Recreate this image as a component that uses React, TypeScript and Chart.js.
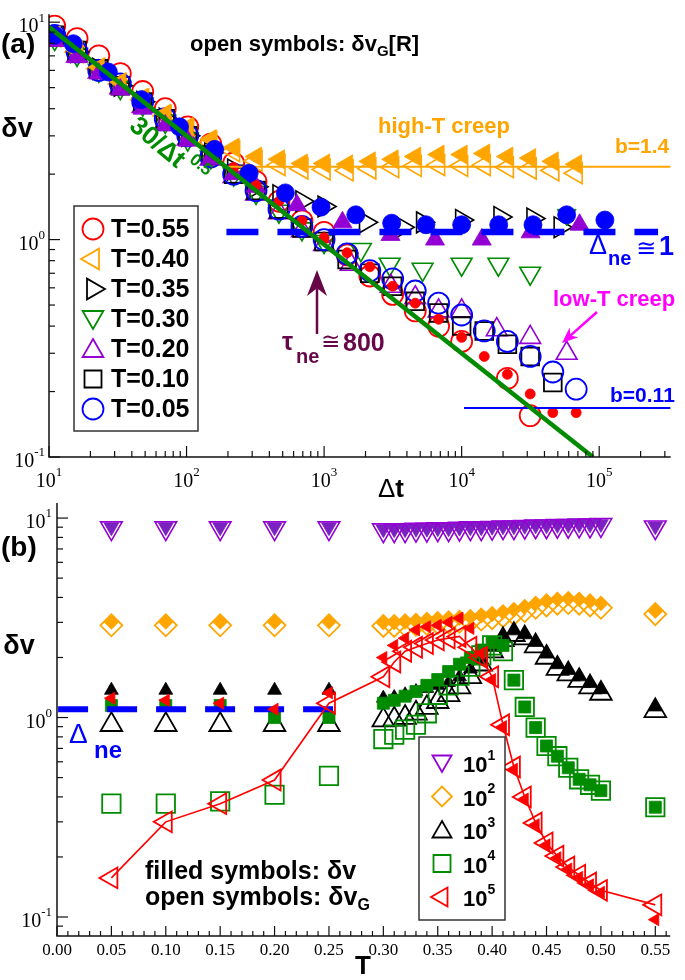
import React, { useEffect, useRef } from 'react';
import { Chart, registerables } from 'chart.js';

Chart.register(...registerables);

const W = 685;
const H = 980;
const SANS = '"Liberation Sans", "DejaVu Sans", Arial, sans-serif';
const SERIF = '"Liberation Serif", "DejaVu Serif", serif';

const RED = '#ff0000';
const ORANGE = '#ffa500';
const BLACK = '#000000';
const GREEN = '#008b00';
const VIOLET = '#9400d3';
const BLUE = '#0000ff';
const MAGENTA = '#ff00ff';
const MAROON = '#670748';

// ---------------- panel (a): delta v versus Delta t ----------------
const tA = [11, 16, 23, 33, 48, 70, 102, 150, 220, 320, 470, 690, 1000, 1470, 2150, 3150, 4600, 6800, 10000, 14600, 21500, 31500, 46000, 68000];

const vG055 = [9.6, 8.4, 7.0, 5.8, 4.8, 4.0, 3.3, 2.75, 2.25, 1.85, 1.5, 1.22, 1.08, 0.85, 0.68, 0.56, 0.47, 0.40, 0.34, null, 0.23, 0.155, null, null];
const v055 = [null, null, null, null, null, null, null, 2.6, 2.15, 1.78, 1.5, 1.22, 1.02, 0.87, 0.75, 0.61, 0.51, 0.43, 0.355, 0.29, 0.24, 0.195, 0.16, 0.16];
const vG040 = [8.6, 7.3, 6.1, 5.2, 4.4, 3.7, 3.2, 2.8, 2.55, 2.3, 2.2, 2.12, 2.1, 2.08, 2.12, 2.15, 2.18, 2.2, 2.18, 2.2, 2.15, 2.12, 2.08, 2.02];
const v040 = [8.7, 7.4, 6.2, 5.3, 4.5, 3.8, 3.3, 2.9, 2.65, 2.41, 2.34, 2.24, 2.24, 2.22, 2.29, 2.34, 2.41, 2.46, 2.46, 2.49, 2.41, 2.37, 2.29, 2.22];
const vG010 = [8.7, 7.4, 6.1, 5.1, 4.3, 3.6, 3.0, 2.45, 2.0, 1.68, 1.38, 1.13, 0.98, 0.81, 0.70, 0.61, 0.52, 0.46, 0.40, 0.38, 0.33, 0.29, 0.22, null];
const vG005 = [8.7, 7.3, 6.0, 5.2, 4.3, 3.6, 3.0, 2.4, 2.0, 1.68, 1.38, 1.15, 1.0, 0.86, 0.72, 0.66, 0.58, 0.51, 0.45, 0.38, 0.34, 0.29, 0.246, 0.205];

const t035 = [11, 16, 23, 33, 48, 70, 102, 150, 220, 320, 470, 690, 1000, 2000, 3700, 5200, 10000, 19000, 33000, 52000];
const vG035 = [8.6, 7.3, 6.1, 5.1, 4.3, 3.6, 3.0, 2.5, 2.1, 1.75, 1.6, 1.5, 1.42, 1.2, 1.14, 1.2, 1.23, 1.27, 1.25, 1.14];

const t030 = [11, 16, 23, 33, 48, 70, 102, 150, 220, 320, 470, 690, 1000, 1850, 3000, 5200, 10000, 18500, 31500];
const vG030 = [8.4, 7.1, 6.0, 5.0, 4.2, 3.5, 2.9, 2.4, 2.0, 1.65, 1.35, 1.12, 0.98, 0.90, 0.77, 0.73, 0.77, 0.77, 0.70];
const t030f = [58000];
const v030 = [1.3];

const t020 = [11, 16, 23, 33, 48, 70, 102, 150, 220, 320, 470, 690, 1000, 1560, 3050, 4600, 6800, 10000, 18000, 31500, 58000];
const vG020 = [8.3, 7.0, 5.9, 5.0, 4.1, 3.45, 2.9, 2.35, 1.95, 1.62, 1.33, 1.1, 0.95, 0.77, 0.61, 0.54, 0.47, 0.47, 0.385, 0.355, 0.30];
const t020f = [11, 16, 23, 33, 48, 70, 102, 150, 220, 320, 635, 1360, 3040, 6400, 14000, 31700, 72000];
const v020 = [8.2, 6.9, 5.8, 4.9, 4.0, 3.35, 2.85, 2.35, 2.0, 1.75, 1.44, 1.2, 1.05, 1.0, 1.0, 1.08, 1.17];

const t005f = [11, 15, 27, 47, 89, 160, 285, 523, 950, 1700, 3100, 5500, 10000, 18600, 33000, 58000, 110000];
const v005 = [8.7, 7.96, 5.9, 4.4, 3.3, 2.6, 2.02, 1.64, 1.41, 1.30, 1.19, 1.17, 1.17, 1.17, 1.17, 1.30, 1.23];

const powT = [10, 90000];
const powV = [9.49, 0.1];
const bHighT = [200, 330000];
const bHighV = [2.16, 2.16];
const bLowT = [10400, 330000];
const bLowV = [0.168, 0.168];
const neT = [195, 268000];
const neV = [1.085, 1.085];

const legendTempsA = ['0.55', '0.40', '0.35', '0.30', '0.20', '0.10', '0.05'];
const xMajorA = [10, 100, 1000, 10000, 100000];
const xExpA = ['1', '2', '3', '4', '5'];
const yMajorA = [10, 1, 0.1];
const yExpA = ['1', '0', '-1'];

// ---------------- panel (b): delta v versus T ----------------
const tempB = [0.05, 0.10, 0.15, 0.20, 0.25, 0.30, 0.31, 0.32, 0.33, 0.34, 0.35, 0.36, 0.37, 0.38, 0.39, 0.40, 0.41, 0.42, 0.43, 0.44, 0.45, 0.46, 0.47, 0.48, 0.49, 0.50, 0.55];

const vG1 = [8.9, 8.9, 8.9, 8.9, 8.9, 8.7, 8.7, 8.7, 8.75, 8.75, 8.8, 8.8, 8.85, 8.9, 8.9, 8.95, 9.0, 9.0, 9.05, 9.1, 9.1, 9.15, 9.15, 9.2, 9.2, 9.25, 9.0];
const v1 = [9.0, 9.0, 9.0, 9.0, 9.0, 8.8, 8.8, 8.8, 8.85, 8.85, 8.9, 8.9, 8.95, 9.0, 9.0, 9.05, 9.1, 9.1, 9.15, 9.2, 9.2, 9.25, 9.25, 9.3, 9.3, 9.35, 9.1];
const vG2 = [2.9, 2.9, 2.9, 2.9, 2.9, 2.88, 2.88, 2.9, 2.92, 2.95, 2.98, 3.0, 3.02, 3.05, 3.1, 3.15, 3.22, 3.3, 3.42, 3.55, 3.65, 3.72, 3.75, 3.72, 3.65, 3.55, 3.3];
const v2 = [3.0, 3.0, 3.0, 3.0, 3.0, 2.98, 2.98, 3.0, 3.02, 3.05, 3.08, 3.1, 3.13, 3.17, 3.22, 3.28, 3.36, 3.45, 3.58, 3.72, 3.82, 3.9, 3.93, 3.9, 3.82, 3.72, 3.4];
const vG3 = [0.92, 0.92, 0.92, 0.92, 0.92, 0.97, 0.98, 1.0, 1.05, 1.12, 1.2, 1.3, 1.42, 1.6, 1.85, 2.15, 2.45, 2.6, 2.5, 2.28, 2.0, 1.76, 1.65, 1.53, 1.42, 1.32, 1.08];
const v3 = [1.37, 1.37, 1.37, 1.37, 1.37, 1.25, 1.26, 1.3, 1.35, 1.4, 1.45, 1.5, 1.6, 1.75, 1.95, 2.25, 2.55, 2.72, 2.6, 2.38, 2.08, 1.84, 1.72, 1.6, 1.48, 1.38, 1.13];
const vG4 = [0.37, 0.37, 0.38, 0.41, 0.51, 0.78, 0.82, 0.87, 0.92, 1.05, 1.3, 1.45, 1.62, 1.8, 2.05, 2.3, 2.15, 1.54, 1.13, 0.89, 0.72, 0.64, 0.56, 0.49, 0.46, 0.43, 0.355];
const v4 = [1.15, 1.15, 1.15, 1.0, 1.0, 1.18, 1.22, 1.28, 1.35, 1.45, 1.55, 1.7, 1.85, 2.0, 2.18, 2.38, 2.3, 1.54, 1.13, 0.89, 0.72, 0.64, 0.56, 0.49, 0.46, 0.43, 0.355];
const vG5 = [0.157, 0.30, 0.37, 0.486, 1.18, 1.6, 1.9, 2.15, 2.25, 2.35, 2.45, 2.5, 2.55, 2.25, 2.0, 1.6, 0.92, 0.565, 0.40, 0.296, 0.235, 0.202, 0.178, 0.162, 0.148, 0.136, 0.115];
const v5 = [1.25, 1.22, 1.18, 1.1, 1.33, 2.0, 2.3, 2.5, 2.75, 2.85, 2.9, 3.0, 3.15, 2.8, 2.1, 1.55, 0.9, 0.55, 0.39, 0.29, 0.23, 0.198, 0.174, 0.158, 0.145, 0.133, 0.097];

const neTB = [0.001, 0.269];
const neVB = [1.1, 1.1];

const legendExpB = ['1', '2', '3', '4', '5'];
const xMajorB = [0, 0.05, 0.1, 0.15, 0.2, 0.25, 0.3, 0.35, 0.4, 0.45, 0.5, 0.55];
const xLabelsB = ['0.00', '0.05', '0.10', '0.15', '0.20', '0.25', '0.30', '0.35', '0.40', '0.45', '0.50', '0.55'];
const yMajorB = [10, 1, 0.1];
const yExpB = ['1', '0', '-1'];

// ---------------- helpers ----------------
type Pt = { x: number; y: number };
const pts = (xs: number[], ys: (number | null)[]): Pt[] =>
  xs.map((x, i) => ({ x, y: ys[i] as number })).filter((p) => p.y !== null && p.y !== undefined);

function sym(xs: number[], ys: (number | null)[], style: string, color: string, r: number, filled: boolean, rot = 0, lw = 1.8): any {
  return {
    data: pts(xs, ys),
    showLine: false,
    pointStyle: style,
    pointRadius: r,
    pointHoverRadius: r,
    pointRotation: rot,
    pointBorderColor: color,
    pointBackgroundColor: filled ? color : 'rgba(0,0,0,0)',
    pointBorderWidth: filled ? 0.8 : lw,
    pointHoverBorderWidth: filled ? 0.8 : lw,
  };
}

function seg(xs: number[], ys: number[], color: string, width: number, dash: number[] = []): any {
  return {
    data: pts(xs, ys),
    showLine: true,
    borderColor: color,
    borderWidth: width,
    borderDash: dash,
    borderCapStyle: 'butt',
    pointRadius: 0,
    pointHoverRadius: 0,
    fill: false,
    tension: 0,
  };
}

type Part = [string, string, number?, string?];
function rich(ctx: CanvasRenderingContext2D, parts: Part[], x: number, y: number, align: 'left' | 'center' | 'right' = 'left', color = '#000') {
  ctx.textAlign = 'left';
  ctx.textBaseline = 'middle';
  let w = 0;
  for (const p of parts) {
    ctx.font = p[1];
    w += ctx.measureText(p[0]).width;
  }
  let cx = align === 'center' ? x - w / 2 : align === 'right' ? x - w : x;
  for (const p of parts) {
    ctx.font = p[1];
    ctx.fillStyle = p[3] || color;
    ctx.fillText(p[0], cx, y + (p[2] || 0));
    cx += ctx.measureText(p[0]).width;
  }
  return w;
}

function marker(ctx: CanvasRenderingContext2D, kind: string, x: number, y: number, r: number, color: string, filled: boolean, rot = 0, lw = 1.8) {
  ctx.beginPath();
  if (kind === 'circle') ctx.arc(x, y, r, 0, Math.PI * 2);
  else if (kind === 'tri') {
    for (let k = 0; k < 3; k++) {
      const a = ((rot + k * 120) * Math.PI) / 180;
      const px = x + Math.sin(a) * r;
      const py = y - Math.cos(a) * r;
      if (k) ctx.lineTo(px, py);
      else ctx.moveTo(px, py);
    }
    ctx.closePath();
  } else if (kind === 'square') ctx.rect(x - r, y - r, 2 * r, 2 * r);
  else if (kind === 'diamond') {
    ctx.moveTo(x - r, y);
    ctx.lineTo(x, y - r);
    ctx.lineTo(x + r, y);
    ctx.lineTo(x, y + r);
    ctx.closePath();
  }
  if (filled) {
    ctx.fillStyle = color;
    ctx.fill();
  } else {
    ctx.strokeStyle = color;
    ctx.lineWidth = lw;
    ctx.stroke();
  }
}

function arrow(ctx: CanvasRenderingContext2D, x1: number, y1: number, x2: number, y2: number, color: string, lw: number, hl: number, hw: number) {
  const ang = Math.atan2(y2 - y1, x2 - x1);
  const c = Math.cos(ang);
  const s = Math.sin(ang);
  const bx = x2 - c * hl;
  const by = y2 - s * hl;
  ctx.strokeStyle = color;
  ctx.lineWidth = lw;
  ctx.beginPath();
  ctx.moveTo(x1, y1);
  ctx.lineTo(bx + c * hl * 0.3, by + s * hl * 0.3);
  ctx.stroke();
  ctx.fillStyle = color;
  ctx.beginPath();
  ctx.moveTo(x2, y2);
  ctx.lineTo(bx + s * hw / 2, by - c * hw / 2);
  ctx.lineTo(bx + c * hl * 0.3, by + s * hl * 0.3);
  ctx.lineTo(bx - s * hw / 2, by + c * hw / 2);
  ctx.closePath();
  ctx.fill();
}

function logTicks(min: number, max: number) {
  const out: { v: number; major: boolean }[] = [];
  for (let e = Math.floor(Math.log10(min)) - 1; e <= Math.ceil(Math.log10(max)); e++) {
    for (let m = 1; m < 10; m++) {
      const v = m * Math.pow(10, e);
      if (v >= min * 0.999 && v <= max * 1.001) out.push({ v, major: m === 1 });
    }
  }
  return out;
}

function hline(ctx: CanvasRenderingContext2D, x1: number, y1: number, x2: number, y2: number) {
  ctx.beginPath();
  ctx.moveTo(x1, y1);
  ctx.lineTo(x2, y2);
  ctx.stroke();
}

const B = (px: number) => `bold ${px}px ${SANS}`;
const N = (px: number) => `${px}px ${SANS}`;

// ---------------- panel (a) overlay ----------------
function drawA(chart: any) {
  const ctx: CanvasRenderingContext2D = chart.ctx;
  const ca = chart.chartArea;
  const xs = chart.scales.x;
  const ys = chart.scales.y;
  ctx.save();
  ctx.strokeStyle = '#111';
  ctx.lineWidth = 1.5;
  ctx.beginPath();
  ctx.moveTo(ca.left, ca.top);
  ctx.lineTo(ca.left, ca.bottom);
  ctx.lineTo(ca.right, ca.bottom);
  ctx.stroke();
  ctx.lineWidth = 1.2;
  for (const tk of logTicks(xs.min, xs.max)) {
    const px = xs.getPixelForValue(tk.v);
    hline(ctx, px, ca.bottom, px, ca.bottom - (tk.major ? 11 : 6));
  }
  for (const tk of logTicks(ys.min, ys.max)) {
    const py = ys.getPixelForValue(tk.v);
    hline(ctx, ca.left, py, ca.left + (tk.major ? 11 : 6), py);
  }
  xMajorA.forEach((v, i) => {
    const px = xs.getPixelForValue(v);
    rich(ctx, [['10', `20px ${SERIF}`, 4], [xExpA[i], `13px ${SERIF}`, -5]], px, 478, 'center');
  });
  yMajorA.forEach((v, i) => {
    const py = ys.getPixelForValue(v);
    rich(ctx, [['10', `20px ${SERIF}`, 5], [yExpA[i], `13px ${SERIF}`, -4]], ca.left - 4, py, 'right');
  });

  // titles
  rich(ctx, [['(a)', B(28)]], 1, 45);
  rich(ctx, [['δv', B(27)]], 17, 130, 'center');
  rich(ctx, [['Δ', N(26)], ['t', B(26)]], 391, 490, 'center');
  rich(ctx, [['open symbols: δv', B(22)], ['G', B(15), 7], ['[R]', B(22)]], 190, 45);

  // annotations
  rich(ctx, [['high-T creep', B(22)]], 378, 127, 'left', ORANGE);
  rich(ctx, [['b=1.4', B(21)]], 615, 147, 'left', ORANGE);
  rich(ctx, [['b=0.11', B(21)]], 610, 396, 'left', BLUE);
  rich(ctx, [['low-T creep', B(22)]], 553, 300, 'left', MAGENTA);
  arrow(ctx, 597, 312, 562, 343, MAGENTA, 2.5, 16, 13);

  rich(ctx, [['Δ', N(27)]], 589, 247, 'left', BLUE);
  rich(ctx, [['ne', B(20)]], 608, 259, 'left', BLUE);
  rich(ctx, [['≅', N(24)]], 636, 249, 'left', BLUE);
  rich(ctx, [['1', B(27)]], 659, 248, 'left', BLUE);

  rich(ctx, [['τ', B(25)]], 282, 343, 'left', MAROON);
  rich(ctx, [['ne', B(20)]], 296, 357, 'left', MAROON);
  rich(ctx, [['≅', N(23)]], 321, 343, 'left', MAROON);
  rich(ctx, [['800', B(25)]], 343, 344, 'left', MAROON);
  arrow(ctx, 317, 334, 317, 270, MAROON, 2.5, 26, 20);

  // rotated power-law label
  ctx.save();
  ctx.translate(157, 143);
  ctx.rotate((40 * Math.PI) / 180);
  const w = rich(ctx, [['30/Δt', B(26)]], 0, 0, 'center', GREEN);
  rich(ctx, [['0.5', B(17)]], w / 2 + 4, -11, 'left', GREEN);
  ctx.restore();

  // legend
  ctx.fillStyle = '#fff';
  ctx.fillRect(74, 206, 124, 225);
  ctx.strokeStyle = '#333';
  ctx.lineWidth = 1.5;
  ctx.strokeRect(74, 206, 124, 225);
  const legendSyms: [string, string, number, number][] = [
    ['circle', RED, 10.5, 0],
    ['tri', ORANGE, 12, 270],
    ['tri', BLACK, 12, 90],
    ['tri', GREEN, 12, 180],
    ['tri', VIOLET, 12, 0],
    ['square', BLACK, 8.5, 0],
    ['circle', BLUE, 10.5, 0],
  ];
  legendTempsA.forEach((t, i) => {
    const y = 229 + i * 30;
    const s = legendSyms[i];
    const dy = s[0] === 'tri' && (s[3] === 0) ? 2 : s[0] === 'tri' && s[3] === 180 ? -2 : 0;
    marker(ctx, s[0], 93, y + dy, s[2], s[1], false, s[3], 1.8);
    rich(ctx, [['T=' + t, B(25)]], 111, y + 1);
  });
  ctx.restore();
}

// ---------------- panel (b) overlay ----------------
function drawB(chart: any) {
  const ctx: CanvasRenderingContext2D = chart.ctx;
  const ca = chart.chartArea;
  const xs = chart.scales.x;
  const ys = chart.scales.y;
  ctx.save();
  ctx.strokeStyle = '#111';
  ctx.lineWidth = 1.5;
  ctx.beginPath();
  ctx.moveTo(ca.left, ca.top);
  ctx.lineTo(ca.left, ca.bottom);
  ctx.lineTo(ca.right, ca.bottom);
  ctx.stroke();
  ctx.lineWidth = 1.2;
  for (let i = 0; i <= Math.floor(xs.max * 100 + 1e-6); i++) {
    const px = xs.getPixelForValue(i / 100);
    hline(ctx, px, ca.bottom, px, ca.bottom - (i % 5 === 0 ? 10 : 5));
  }
  for (const tk of logTicks(ys.min, ys.max)) {
    const py = ys.getPixelForValue(tk.v);
    hline(ctx, ca.left, py, ca.left + (tk.major ? 11 : 6), py);
  }
  xMajorB.forEach((v, i) => {
    const px = xs.getPixelForValue(v);
    rich(ctx, [[xLabelsB[i], `17px ${SERIF}`]], px, 951, 'center');
  });
  yMajorB.forEach((v, i) => {
    const py = ys.getPixelForValue(v);
    rich(ctx, [['10', `20px ${SERIF}`, 5], [yExpB[i], `13px ${SERIF}`, -4]], ca.left - 5, py, 'right');
  });

  rich(ctx, [['(b)', B(28)]], 1, 548);
  rich(ctx, [['δv', B(27)]], 19, 647, 'center');
  rich(ctx, [['T', B(26)]], 363, 967, 'center');

  rich(ctx, [['Δ', N(28)]], 69, 735, 'left', BLUE);
  rich(ctx, [['ne', B(24)]], 94, 751, 'left', BLUE);

  rich(ctx, [['filled symbols: δv', B(25)]], 145, 872);
  rich(ctx, [['open symbols: δv', B(25)], ['G', B(16), 8]], 145, 898);

  // legend
  ctx.fillStyle = '#fff';
  ctx.fillRect(419, 737, 86, 183);
  ctx.strokeStyle = '#333';
  ctx.lineWidth = 1.5;
  ctx.strokeRect(419, 737, 86, 183);
  const legendSyms: [string, string, number, number][] = [
    ['tri', VIOLET, 11, 180],
    ['diamond', ORANGE, 10, 0],
    ['tri', BLACK, 11, 0],
    ['square', GREEN, 8.5, 0],
    ['tri', RED, 11, 270],
  ];
  legendExpB.forEach((e, i) => {
    const y = 763 + i * 33.5;
    const s = legendSyms[i];
    const dy = s[0] === 'tri' && s[3] === 0 ? 2 : s[0] === 'tri' && s[3] === 180 ? -2 : 0;
    marker(ctx, s[0], 442, y + dy, s[2], s[1], false, s[3], 1.8);
    rich(ctx, [['10', B(22), 3], [e, B(14), -7]], 463, y);
  });
  ctx.restore();
}

function configA(): any {
  const datasets = [
    seg(powT, powV, GREEN, 4.5),
    seg(neT, neV, BLUE, 6.5, [32, 19]),
    sym(t005f, v005, 'circle', BLUE, 9, true),
    seg(bHighT, bHighV, ORANGE, 2),
    seg(bLowT, bLowV, BLUE, 2),
    sym(tA, v055, 'circle', RED, 5, true),
    sym(t020f, v020, 'triangle', VIOLET, 11, true),
    sym(t030f, v030, 'triangle', GREEN, 11, true, 180),
    sym(tA, v040, 'triangle', ORANGE, 11, true, 270),
    sym(tA, vG005, 'circle', BLUE, 10.5, false),
    sym(tA, vG010, 'rect', BLACK, 12.5, false),
    sym(t020, vG020, 'triangle', VIOLET, 12, false, 0, 1.6),
    sym(t030, vG030, 'triangle', GREEN, 12, false, 180, 1.6),
    sym(t035, vG035, 'triangle', BLACK, 12, false, 90, 1.6),
    sym(tA, vG040, 'triangle', ORANGE, 12, false, 270, 1.6),
    sym(tA, vG055, 'circle', RED, 10.5, false),
  ];
  return {
    type: 'scatter',
    data: { datasets },
    options: {
      animation: false,
      responsive: false,
      maintainAspectRatio: false,
      events: [],
      layout: { padding: { left: 49, right: 2, top: 5, bottom: 523 } },
      scales: {
        x: { type: 'logarithmic', min: 10, max: 331000, display: false },
        y: { type: 'logarithmic', min: 0.1, max: 10.87, display: false },
      },
      plugins: { legend: { display: false }, tooltip: { enabled: false } },
    },
    plugins: [{ id: 'panelA', afterDraw: drawA }],
  };
}

function configB(): any {
  const red = sym(tempB, vG5, 'triangle', RED, 12, false, 270, 1.8);
  red.showLine = true;
  red.borderColor = RED;
  red.borderWidth = 1.6;
  red.tension = 0;
  const datasets = [
    red,
    sym(tempB, v5, 'triangle', RED, 7, true, 270),
    seg(neTB, neVB, BLUE, 6, [30, 19]),
    sym(tempB, vG4, 'rect', GREEN, 13, false, 0, 1.8),
    sym(tempB, v4, 'rect', GREEN, 8.5, true),
    sym(tempB, vG3, 'triangle', BLACK, 12.5, false, 0, 1.8),
    sym(tempB, v3, 'triangle', BLACK, 8, true),
    sym(tempB, vG2, 'rectRot', ORANGE, 11, false, 0, 1.8),
    sym(tempB, v2, 'rectRot', ORANGE, 7, true),
    sym(tempB, vG1, 'triangle', VIOLET, 12.5, false, 180, 1.6),
    sym(tempB, v1, 'triangle', '#7a22c0', 8.5, true, 180),
  ];
  return {
    type: 'scatter',
    data: { datasets },
    options: {
      animation: false,
      responsive: false,
      maintainAspectRatio: false,
      events: [],
      layout: { padding: { left: 57, right: 1, top: 503, bottom: 44 } },
      scales: {
        x: { type: 'linear', min: 0, max: 0.5637, display: false },
        y: { type: 'logarithmic', min: 0.0803, max: 11.9, display: false },
      },
      plugins: { legend: { display: false }, tooltip: { enabled: false } },
    },
    plugins: [{ id: 'panelB', afterDraw: drawB }],
  };
}

export default function App() {
  const refA = useRef<HTMLCanvasElement>(null);
  const refB = useRef<HTMLCanvasElement>(null);
  useEffect(() => {
    const a = new Chart(refA.current as HTMLCanvasElement, configA());
    const b = new Chart(refB.current as HTMLCanvasElement, configB());
    return () => {
      a.destroy();
      b.destroy();
    };
  }, []);
  const st: React.CSSProperties = { position: 'absolute', left: 0, top: 0, width: W, height: H };
  return (
    <div style={{ position: 'fixed', left: 0, top: 0, width: W, height: H, background: '#fff' }}>
      <canvas ref={refA} width={W} height={H} style={st} />
      <canvas ref={refB} width={W} height={H} style={st} />
    </div>
  );
}
